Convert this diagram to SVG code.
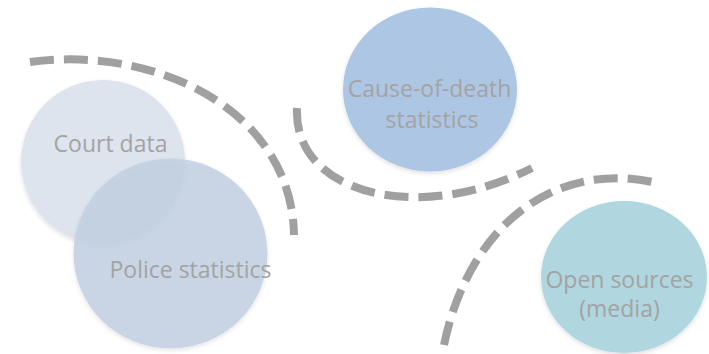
<svg xmlns="http://www.w3.org/2000/svg" width="709" height="354" viewBox="0 0 709 354">
<defs>
<filter id="sh" x="-20%" y="-20%" width="140%" height="140%">
<feDropShadow dx="0" dy="2" stdDeviation="2" flood-color="#000" flood-opacity="0.12"/>
</filter>
<style>
.lbl{font-family:"Open Sans","Liberation Sans",sans-serif;font-size:23px;fill:#a3a3a3;text-anchor:middle}
.dash{fill:none;stroke:#a0a0a0;stroke-width:8;stroke-dasharray:24 10}
</style>
</defs>
<rect width="709" height="354" fill="#fff"/>
<g id="connectors">
<path class="dash" d="M30,62 C155,45 292,110 294,235"/>
<path class="dash" d="M297,108 C293,195 420,225 532,168"/>
<path class="dash" d="M444,345 C470,220 560,160 657,183"/>
</g>
<g id="court">
<circle cx="103" cy="162" r="82" fill="#dde4ee" filter="url(#sh)"/>
<text class="lbl" x="110.5" y="152">Court data</text>
</g>
<g id="police">
<ellipse cx="170.5" cy="253.5" rx="97" ry="95" fill="#c2d0e2" fill-opacity="0.85" filter="url(#sh)"/>
<text class="lbl" x="190.5" y="278">Police statistics</text>
</g>
<g id="cause">
<ellipse cx="430" cy="89.5" rx="87" ry="82" fill="#adc6e4" filter="url(#sh)"/>
<text class="lbl" x="429.5" y="97">Cause-of-death</text>
<text class="lbl" x="432" y="128">statistics</text>
</g>
<g id="open">
<ellipse cx="624" cy="277" rx="83" ry="76" fill="#b0d6df" filter="url(#sh)"/>
<text class="lbl" x="619.5" y="288">Open sources</text>
<text class="lbl" x="619.5" y="317">(media)</text>
</g>
</svg>
